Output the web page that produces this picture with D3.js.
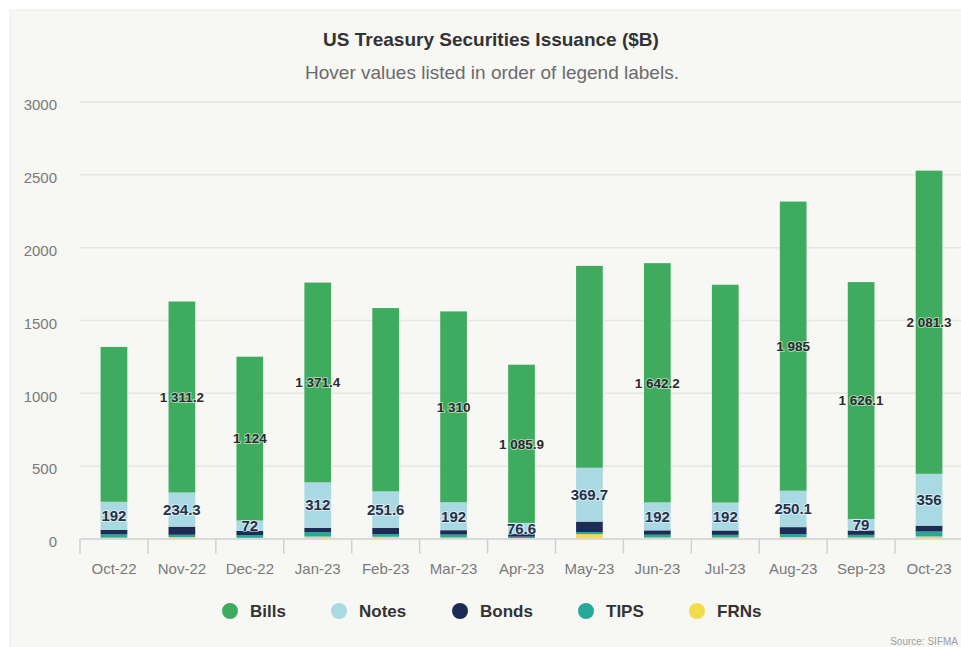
<!DOCTYPE html>
<html>
<head>
<meta charset="utf-8">
<script src="https://cdn.jsdelivr.net/npm/d3@7"></script>
<style>
  html, body { margin: 0; padding: 0; background: #ffffff; }
  svg { display: block; font-family: "Liberation Sans", Arial, Helvetica, sans-serif; }
</style>
</head>
<body>
<svg id="chart" width="961" height="647"></svg>
<script>
// Monthly gross issuance of US Treasury securities, $B
const months = ["Oct-22", "Nov-22", "Dec-22", "Jan-23", "Feb-23", "Mar-23", "Apr-23",
                "May-23", "Jun-23", "Jul-23", "Aug-23", "Sep-23", "Oct-23"];
const bills = [1063, 1311.2, 1124, 1371.4, 1258.4, 1310, 1085.9, 1386, 1642.2, 1495, 1985, 1626.1, 2081.3];
const notes = [192, 234.3, 72, 312, 251.6, 192, 76.6, 369.7, 192, 192, 250.1, 79, 356];
const bonds = [32, 56, 30, 30, 42, 30, 18, 72, 30, 30, 48, 30, 40];
const tips  = [22, 16, 17, 30, 18, 20, 9, 14, 19, 18, 20, 18, 34];
const frns  = [6, 9.5, 5, 13.6, 12, 7, 3.5, 30, 7, 7, 10, 7, 14];
// Bills value labels that survive label-overlap hiding
const billsLabelShown = [false, true, true, true, false, true, true, false, true, false, true, true, true];
const yTicks = [0, 500, 1000, 1500, 2000, 2500, 3000];

const seriesInfo = [
  { key: "Bills", values: bills, color: "#3fab5f" },
  { key: "Notes", values: notes, color: "#a9d9e2" },
  { key: "Bonds", values: bonds, color: "#1d2c55" },
  { key: "TIPS",  values: tips,  color: "#26a99b" },
  { key: "FRNs",  values: frns,  color: "#f3dc4c" }
];

const rows = months.map((m, i) => {
  const r = { month: m };
  seriesInfo.forEach(s => { r[s.key] = s.values[i]; });
  return r;
});

const svg = d3.select("#chart");
const W = 961, H = 647;

// chart panel
svg.append("rect")
  .attr("x", 10).attr("y", 10).attr("width", W).attr("height", H)
  .attr("fill", "#f7f7f4").attr("stroke", "#ececea");

const plot = { left: 80, right: 963, top: 101.5, bottom: 538.5 };

const x = d3.scaleBand().domain(months).range([plot.left, plot.right]).padding(0);
const barW = x.bandwidth() * 0.393;
const y = d3.scaleLinear().domain([0, 3000]).range([plot.bottom, plot.top]);

// title & subtitle
svg.append("text").attr("x", 491).attr("y", 46).attr("text-anchor", "middle")
  .attr("font-size", 19).attr("font-weight", "bold").attr("fill", "#333")
  .text("US Treasury Securities Issuance ($B)");
svg.append("text").attr("x", 492).attr("y", 79).attr("text-anchor", "middle")
  .attr("font-size", 19).attr("fill", "#6b6b6b")
  .text("Hover values listed in order of legend labels.");

// gridlines and y labels
const yAxis = d3.axisLeft(y).tickValues(yTicks).tickSize(-(W - plot.left)).tickPadding(0).tickFormat(d3.format("d"));
const gy = svg.append("g").attr("transform", `translate(${plot.left},0)`).call(yAxis);
gy.select(".domain").remove();
gy.selectAll(".tick line").attr("stroke", "#e6e6e3").attr("stroke-width", 1.5);
gy.selectAll(".tick text")
  .attr("x", -23).attr("dy", "0.55em")
  .attr("font-size", 15).attr("fill", "#7a7a7a").attr("font-family", null);
gy.selectAll(".tick").filter(d => d === 0).select("line").remove();

// stacked bars
const stack = d3.stack().keys(["FRNs", "TIPS", "Bonds", "Notes", "Bills"]);
const stacked = stack(rows);
const colorOf = k => seriesInfo.find(s => s.key === k).color;

const layers = svg.append("g").selectAll("g").data(stacked).join("g")
  .attr("fill", d => colorOf(d.key));
layers.selectAll("rect").data(d => d).join("rect")
  .attr("x", d => x(d.data.month) + (x.bandwidth() - barW) / 2)
  .attr("width", barW)
  .attr("y", d => y(d[1]))
  .attr("height", d => y(d[0]) - y(d[1]));

// x axis
const xAxis = d3.axisBottom(x).tickSize(0).tickPadding(0);
const gx = svg.append("g").attr("transform", `translate(0,${plot.bottom})`).call(xAxis);
gx.select(".domain").attr("stroke", "#cfd1d6").attr("stroke-width", 1.5);
gx.selectAll(".tick text").attr("y", 25).attr("font-size", 15).attr("fill", "#7a7a7a").attr("font-family", null);
// boundary tick marks between categories
svg.append("g").selectAll("line").data(months).join("line")
  .attr("x1", d => x(d)).attr("x2", d => x(d))
  .attr("y1", plot.bottom).attr("y2", plot.bottom + 15)
  .attr("stroke", "#cfd1d6").attr("stroke-width", 1.5);

// value labels
const fmt = d3.formatLocale({ decimal: ".", thousands: " ", grouping: [3], currency: ["", ""] }).format(",");
const billsLayer = stacked.find(s => s.key === "Bills");
const notesLayer = stacked.find(s => s.key === "Notes");

function label(g, layer, size, color, show) {
  g.selectAll("text").data(layer.filter((d, i) => show(i))).join("text")
    .attr("x", d => x(d.data.month) + x.bandwidth() / 2)
    .attr("y", d => (y(d[0]) + y(d[1])) / 2)
    .attr("dy", "0.36em")
    .attr("text-anchor", "middle")
    .attr("font-size", size).attr("font-weight", "bold")
    .attr("fill", color)
    .attr("stroke", "rgba(255,255,255,0.5)").attr("stroke-width", 2)
    .attr("paint-order", "stroke")
    .text(d => fmt(+(d[1] - d[0]).toFixed(1)));
}
label(svg.append("g"), billsLayer, 13.5, "#2b2b2b", i => billsLabelShown[i]);
label(svg.append("g"), notesLayer, 15, "#26304a", () => true);

// legend
const legendX = [230, 339, 460, 586, 697];
const lg = svg.append("g").selectAll("g").data(seriesInfo).join("g")
  .attr("transform", (d, i) => `translate(${legendX[i]},611)`);
lg.append("circle").attr("r", 8).attr("fill", d => d.color);
lg.append("text").attr("x", 20).attr("dy", "0.36em")
  .attr("font-size", 17).attr("font-weight", "bold").attr("fill", "#333")
  .text(d => d.key);

// source note
svg.append("text").attr("x", 958).attr("y", 645).attr("text-anchor", "end")
  .attr("font-size", 10).attr("fill", "#a0a0a0")
  .text("Source: SIFMA");
</script>
</body>
</html>
